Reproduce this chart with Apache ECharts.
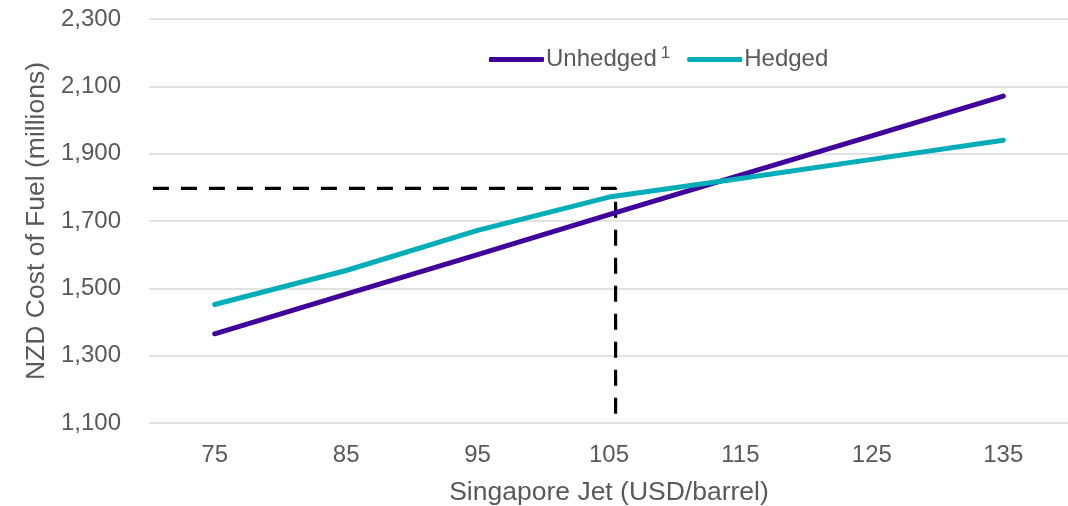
<!DOCTYPE html>
<html>
<head>
<meta charset="utf-8">
<script src="https://cdn.jsdelivr.net/npm/echarts@6/dist/echarts.min.js"></script>
<style>
  html, body { margin: 0; padding: 0; background: #fff; }
  #chart { width: 1068px; height: 506px; }
</style>
</head>
<body>
<div id="chart"></div>
<script>
// Jet fuel price scenarios (USD/barrel)
const prices = ['75', '85', '95', '105', '115', '125', '135'];
// NZD fuel cost (millions) without and with hedging
const unhedged = [1365, 1483, 1600, 1719, 1836, 1953, 2071];
const hedged = [1452, 1553, 1672, 1771, 1826, 1883, 1940];
// Reference guide: budget price and cost
const guidePrice = 105.5;
const guideCost = 1797;
const yTicks = { min: 1100, max: 2300, step: 200 };

const textColor = '#595959';
const font = 'Liberation Sans, Arial, sans-serif';

const chart = echarts.init(document.getElementById('chart'));
chart.setOption({
  animation: false,
  grid: { left: 149, top: 19, width: 920, bottom: 83, outerBoundsMode: 'none', containLabel: false },
  legend: {
    left: 484,
    top: 40,
    itemWidth: 55,
    itemHeight: 5,
    itemGap: 17,
    icon: 'roundRect',
    data: ['Unhedged', 'Hedged'],
    formatter: function (name) {
      return name === 'Unhedged' ? 'Unhedged{sup|1}' : name;
    },
    textStyle: {
      color: textColor,
      fontFamily: font,
      fontSize: 24,
      padding: [0, 0, 0, -3],
      rich: {
        sup: { fontSize: 17, color: textColor, fontFamily: font, verticalAlign: 'top', padding: [0, 0, 12, 4] }
      }
    }
  },
  xAxis: [
    {
      type: 'category',
      data: prices,
      boundaryGap: true,
      axisLine: { show: false },
      axisTick: { show: false },
      axisLabel: { color: textColor, fontFamily: font, fontSize: 24, margin: 20 },
      name: 'Singapore Jet (USD/barrel)',
      nameLocation: 'middle',
      nameGap: 56,
      nameTextStyle: { color: textColor, fontFamily: font, fontSize: 26.5 }
    },
    {
      type: 'value',
      min: 70,
      max: 140,
      show: false
    }
  ],
  yAxis: {
    type: 'value',
    min: yTicks.min,
    max: yTicks.max,
    interval: yTicks.step,
    axisLine: { show: false },
    axisTick: { show: false },
    splitLine: { lineStyle: { color: '#D9D9D9', width: 1.5 } },
    axisLabel: {
      color: textColor, fontFamily: font, fontSize: 24, margin: 28,
      formatter: function (v) { return v.toLocaleString('en-US'); }
    },
    name: 'NZD Cost of Fuel (millions)',
    nameLocation: 'middle',
    nameGap: 90,
    nameTextStyle: { color: textColor, fontFamily: font, fontSize: 26.5 }
  },
  series: [
    {
      name: 'Guide',
      type: 'line',
      xAxisIndex: 1,
      data: [[70.3, guideCost], [guidePrice, guideCost], [guidePrice, yTicks.min]],
      showSymbol: false,
      silent: true,
      lineStyle: { color: '#000', width: 3.2, type: [16, 12] },
      z: 3
    },
    {
      name: 'Unhedged',
      type: 'line',
      data: unhedged,
      showSymbol: false,
      color: '#40009B',
      lineStyle: { width: 5, cap: 'round', join: 'round' },
      z: 4
    },
    {
      name: 'Hedged',
      type: 'line',
      data: hedged,
      showSymbol: false,
      color: '#00ADB8',
      lineStyle: { width: 5, cap: 'round', join: 'round' },
      z: 5
    }
  ]
});
</script>
</body>
</html>
